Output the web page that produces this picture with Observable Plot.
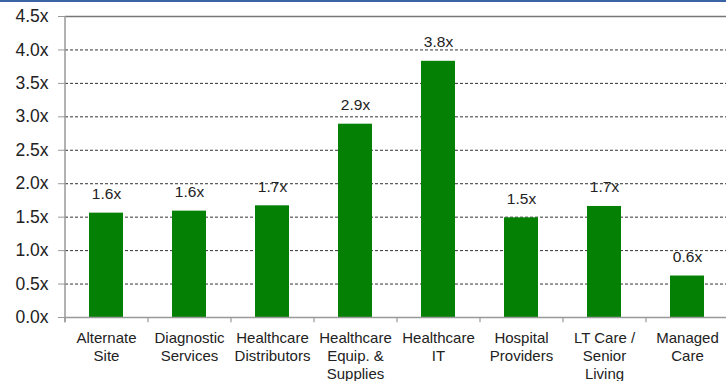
<!DOCTYPE html>
<html>
<head>
<meta charset="utf-8">
<script src="https://cdn.jsdelivr.net/npm/d3@7"></script>
<script src="https://cdn.jsdelivr.net/npm/@observablehq/plot@0.6"></script>
<style>
  html, body { margin: 0; padding: 0; background: #fff; }
  #topbar { width: 726px; height: 2px; background: #3b64a4; }
  #chart svg { display: block; }
</style>
</head>
<body>
<div id="topbar"></div>
<div id="chart"></div>
<script>
const categories = [
  "Alternate\nSite",
  "Diagnostic\nServices",
  "Healthcare\nDistributors",
  "Healthcare\nEquip. &\nSupplies",
  "Healthcare\nIT",
  "Hospital\nProviders",
  "LT Care /\nSenior\nLiving",
  "Managed\nCare"
];
const values = [1.56, 1.59, 1.67, 2.89, 3.83, 1.49, 1.66, 0.62];
const valueLabels = ["1.6x", "1.6x", "1.7x", "2.9x", "3.8x", "1.5x", "1.7x", "0.6x"];
const yTicks = [0, 0.5, 1, 1.5, 2, 2.5, 3, 3.5, 4, 4.5];
const dashedGrid = [0.5, 1, 1.5, 2, 2.5, 3, 3.5, 4];

const data = categories.map((c, i) => ({cat: c, value: values[i], label: valueLabels[i]}));
const halfStep = 41.5;

const chart = Plot.plot({
  width: 726,
  height: 379,
  marginTop: 14,
  marginBottom: 64,
  marginLeft: 65,
  marginRight: 0,
  style: {fontFamily: "'Liberation Sans', Arial, sans-serif", background: "#fff", color: "#222"},
  x: {domain: categories, range: [65, 729], paddingInner: 0.59, paddingOuter: 0.295, axis: null},
  y: {domain: [0, 4.5], axis: null},
  marks: [
    Plot.ruleY(dashedGrid, {stroke: "#333", strokeWidth: 1, strokeDasharray: "3,2"}),
    Plot.ruleY([4.5], {stroke: "#777", strokeWidth: 1.5}),
    Plot.barY(data, {x: "cat", y: "value", fill: "#048004"}),
    Plot.ruleY([0], {stroke: "#999", strokeWidth: 1.5}),
    Plot.ruleX([categories[0]], {dx: -halfStep, y1: -0.08, y2: 4.5, stroke: "#999", strokeWidth: 1.5}),
    Plot.ruleX(categories, {dx: -halfStep, y1: -0.08, y2: 0, stroke: "#999", strokeWidth: 1.2}),
    Plot.axisY({ticks: yTicks, tickFormat: d => d.toFixed(1) + "x", tickSize: 7, tickPadding: 10,
      stroke: "#999", fill: "#222", fontSize: 17.5, label: null}),
    Plot.text(data, {x: "cat", y: "value", text: "label", lineAnchor: "bottom", dy: -14,
      fontSize: 15.5, fill: "#222"}),
    Plot.text(data, {x: "cat", y: () => 0, text: "cat", lineAnchor: "top", dy: 12,
      fontSize: 15, lineHeight: 1.22, fill: "#222"})
  ]
});
document.getElementById("chart").appendChild(chart);
</script>
</body>
</html>
